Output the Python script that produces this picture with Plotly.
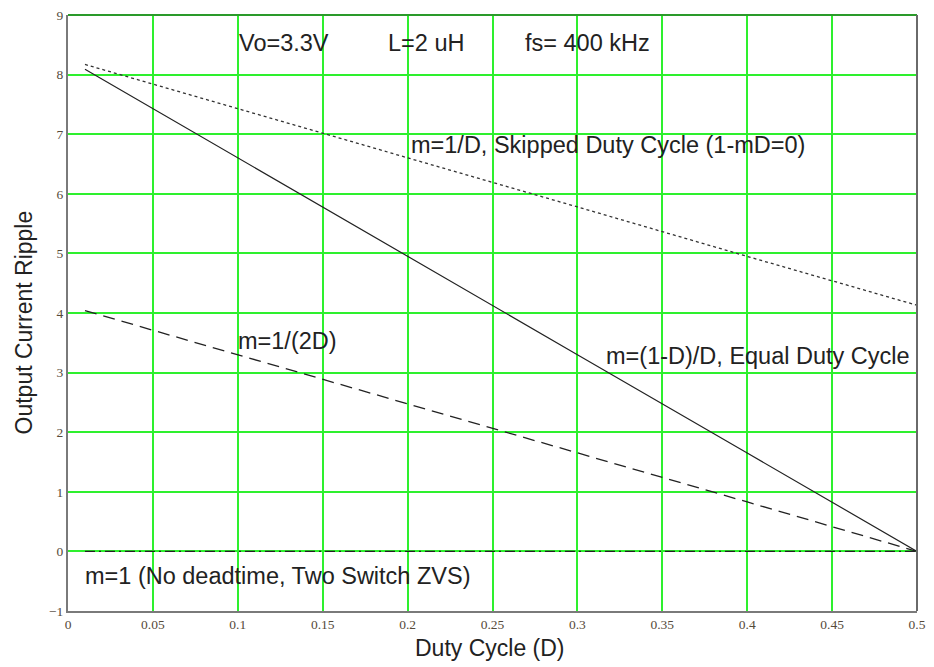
import plotly.graph_objects as go

# Data
duty = [0.01, 0.1, 0.2, 0.3, 0.4, 0.5]
ripple_skipped = [8.17, 7.43, 6.60, 5.78, 4.95, 4.13]   # m=1/D
ripple_equal = [8.09, 6.60, 4.95, 3.30, 1.65, 0.0]      # m=(1-D)/D
ripple_half = [4.04, 3.30, 2.48, 1.65, 0.83, 0.0]       # m=1/(2D)
ripple_zvs = [0.0, 0.0, 0.0, 0.0, 0.0, 0.0]             # m=1

x_ticks = [0, 0.05, 0.1, 0.15, 0.2, 0.25, 0.3, 0.35, 0.4, 0.45, 0.5]
x_tick_text = ["0", "0.05", "0.1", "0.15", "0.2", "0.25", "0.3", "0.35", "0.4", "0.45", "0.5"]
y_ticks = [-1, 0, 1, 2, 3, 4, 5, 6, 7, 8, 9]

fig = go.Figure()
fig.add_trace(go.Scatter(x=duty, y=ripple_zvs, mode="lines",
                         line=dict(color="#222222", width=1.3, dash="10px,4px,2px,4px")))
fig.add_trace(go.Scatter(x=duty, y=ripple_skipped, mode="lines",
                         line=dict(color="#333333", width=1.3, dash="3px,3px")))
fig.add_trace(go.Scatter(x=duty, y=ripple_equal, mode="lines",
                         line=dict(color="#222222", width=1.2)))
fig.add_trace(go.Scatter(x=duty, y=ripple_half, mode="lines",
                         line=dict(color="#222222", width=1.3, dash="12px,7px")))

sans = "Liberation Sans, Arial, sans-serif"
ann_font = dict(family=sans, size=23.5, color="#222222")
annotations = [
    ("Vo=3.3V", 0.0995, 8.53),
    ("L=2 uH", 0.1873, 8.53),
    ("fs= 400 kHz", 0.268, 8.53),
    ("m=1/D, Skipped Duty Cycle (1-mD=0)", 0.2010, 6.82),
    ("m=(1-D)/D, Equal Duty Cycle", 0.3155, 3.28),
    ("m=1/(2D)", 0.0990, 3.53),
    ("m=1 (No deadtime, Two Switch ZVS)", 0.0090, -0.42),
]
for text, ax, ay in annotations:
    fig.add_annotation(x=ax, y=ay, text=text, showarrow=False, xanchor="left",
                       yanchor="middle", font=ann_font)

# axis titles placed in paper coordinates (margins kept fixed)
fig.add_annotation(text="Duty Cycle (D)", xref="paper", yref="paper",
                   x=(490 - 68) / 849, y=-(648 - 611) / 597, showarrow=False,
                   xanchor="center", yanchor="middle",
                   font=dict(family=sans, size=23, color="#222222"))
fig.add_annotation(text="Output Current Ripple", xref="paper", yref="paper",
                   x=-(68 - 24) / 849, y=(611 - 322) / 597, showarrow=False,
                   textangle=-90, xanchor="center", yanchor="middle",
                   font=dict(family=sans, size=23, color="#222222"))

tick_font = dict(family="Liberation Serif, Times New Roman, serif", size=13.5, color="#554a3a")
# the page adds an 8px body margin, so the figure is made 8px smaller on each side
fig.update_layout(
    width=926, height=659,
    margin=dict(l=60, r=17, t=7, b=56),
    paper_bgcolor="white", plot_bgcolor="white",
    showlegend=False,
    xaxis=dict(range=[0, 0.5], tickvals=x_ticks, ticktext=x_tick_text,
               showgrid=True, gridcolor="#2ef02e", gridwidth=1.6,
               zeroline=False, showline=True, linecolor="#7a7a7a", linewidth=2,
               ticks="", tickfont=tick_font, automargin=False,
               ticklabeloverflow="allow"),
    yaxis=dict(range=[-1, 9], tickvals=y_ticks,
               showgrid=True, gridcolor="#2ef02e", gridwidth=1.6,
               zeroline=False, showline=True, linecolor="#7a7a7a", linewidth=2,
               ticks="", tickfont=tick_font, automargin=False,
               ticklabeloverflow="allow"),
)
fig.add_shape(type="line", xref="paper", yref="paper", x0=0, x1=1, y0=1, y1=1,
              line=dict(color="#2a9a2a", width=2))
fig.add_shape(type="line", xref="paper", yref="paper", x0=1, x1=1, y0=0, y1=1,
              line=dict(color="#6a6a6a", width=2))

fig.write_html("out.html")
